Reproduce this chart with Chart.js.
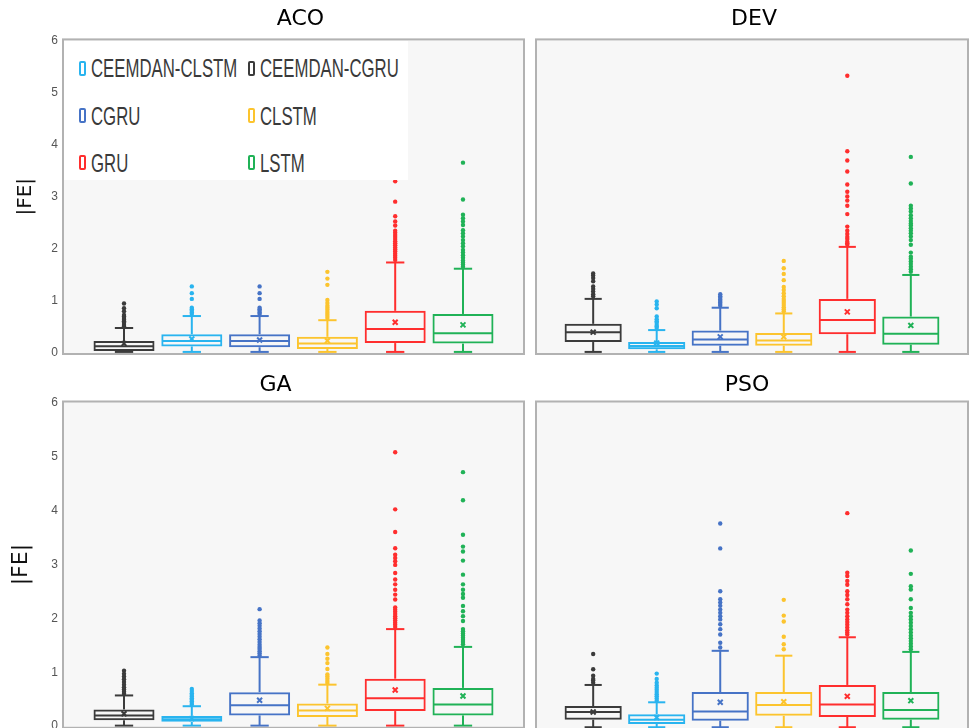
<!DOCTYPE html>
<html>
<head>
<meta charset="utf-8">
<script src="https://cdn.jsdelivr.net/npm/chart.js@4.4.1/dist/chart.umd.min.js"></script>
<style>
  html, body { margin: 0; padding: 0; background: #fff; }
  body { position: relative; width: 974px; height: 728px; overflow: hidden; }
  canvas { position: absolute; }
  #legend { position: absolute; left: 64px; top: 41px; width: 344px; height: 139px; background: #fff; z-index: 5; }
  .lg-icon { position: absolute; width: 7px; height: 15px; box-sizing: border-box; border: 2px solid; border-radius: 2px; }
  .lg-text { position: absolute; font: 26px 'Liberation Sans', Arial, sans-serif; line-height: 26px; color: #3a3a3a;
             white-space: nowrap; transform: scaleX(0.645); transform-origin: left center; }
</style>
</head>
<body>
<div id="legend"></div>
<script>
const categories = ['CEEMDAN-CGRU', 'CEEMDAN-CLSTM', 'CGRU', 'CLSTM', 'GRU', 'LSTM'];
const colors = ['#3b3b3b', '#29b4ef', '#4673c6', '#fcc42e', '#ff2e2e', '#20b257'];
const legendOrder = ['CEEMDAN-CLSTM', 'CEEMDAN-CGRU', 'CGRU', 'CLSTM', 'GRU', 'LSTM'];
const yTicks = [0, 1, 2, 3, 4, 5, 6];

// ACO
const acoLow = [0.01, 0.01, 0.01, 0.01, 0.01, 0.01];
const acoQ1 = [0.03, 0.115, 0.10, 0.065, 0.18, 0.17];
const acoMedian = [0.12, 0.22, 0.22, 0.17, 0.45, 0.37];
const acoQ3 = [0.22, 0.35, 0.35, 0.30, 0.80, 0.74];
const acoHigh = [0.47, 0.70, 0.70, 0.62, 1.73, 1.61];
const acoMean = [0.17, 0.26, 0.24, 0.225, 0.58, 0.53];
const acoOutliers = [
  [0.5, 0.53, 0.57, 0.6, 0.63, 0.66, 0.69, 0.72, 0.79, 0.85, 0.94],
  [0.74, 0.77, 0.8, 0.83, 0.86, 1.03, 1.14, 1.27],
  [0.74, 0.77, 0.8, 0.83, 0.86, 1.03, 1.14, 1.27],
  [0.66, 0.7, 0.74, 0.78, 0.82, 0.86, 0.9, 0.95, 1.01, 1.3, 1.42, 1.55],
  [1.78, 1.82, 1.86, 1.9, 1.94, 1.98, 2.02, 2.06, 2.1, 2.14, 2.18, 2.22, 2.26, 2.3, 2.34, 2.44, 2.52, 2.62, 2.9, 3.29],
  [1.65, 1.69, 1.73, 1.77, 1.82, 1.87, 1.92, 1.97, 2.04, 2.1, 2.16, 2.23, 2.29, 2.35, 2.45, 2.52, 2.58, 2.65, 2.94, 3.65]
];

// DEV
const devLow = [0.01, 0.01, 0.01, 0.01, 0.01, 0.01];
const devQ1 = [0.2, 0.06, 0.13, 0.13, 0.35, 0.15];
const devMedian = [0.39, 0.125, 0.25, 0.23, 0.625, 0.36];
const devQ3 = [0.55, 0.2, 0.42, 0.375, 1.03, 0.69];
const devHigh = [1.03, 0.43, 0.86, 0.75, 2.03, 1.49];
const devMean = [0.39, 0.18, 0.3, 0.3, 0.78, 0.52];
const devOutliers = [
  [1.08, 1.12, 1.17, 1.22, 1.27, 1.37, 1.43, 1.48, 1.52],
  [0.47, 0.5, 0.53, 0.57, 0.6, 0.64, 0.69, 0.85, 0.92, 0.98],
  [0.9, 0.93, 0.96, 0.99, 1.02, 1.05, 1.08, 1.12],
  [0.79, 0.83, 0.87, 0.91, 0.95, 0.99, 1.03, 1.08, 1.14, 1.2, 1.26, 1.39, 1.51, 1.62, 1.76],
  [2.07, 2.1, 2.13, 2.18, 2.22, 2.28, 2.34, 2.42, 2.66, 2.82, 2.92, 3.0, 3.09, 3.23, 3.48, 3.69, 3.87, 5.32],
  [1.55, 1.6, 1.65, 1.7, 1.75, 1.8, 1.84, 1.92, 2.07, 2.16, 2.23, 2.29, 2.34, 2.39, 2.44, 2.48, 2.53, 2.58, 2.64, 2.71, 2.77, 2.82, 3.25, 3.76]
];

// GA
const gaLow = [0.01, 0.01, 0.01, 0.01, 0.01, 0.01];
const gaQ1 = [0.11, 0.08, 0.2, 0.17, 0.28, 0.2];
const gaMedian = [0.2, 0.13, 0.39, 0.29, 0.52, 0.4];
const gaQ3 = [0.31, 0.19, 0.63, 0.42, 0.88, 0.71];
const gaHigh = [0.57, 0.37, 1.28, 0.77, 1.8, 1.47];
const gaMean = [0.23, 0.14, 0.48, 0.33, 0.67, 0.56];
const gaOutliers = [
  [0.6, 0.64, 0.68, 0.72, 0.77, 0.82, 0.87, 0.92, 0.97, 1.03],
  [0.4, 0.43, 0.46, 0.49, 0.52, 0.55, 0.58, 0.61, 0.65, 0.69],
  [1.31, 1.35, 1.39, 1.43, 1.47, 1.51, 1.56, 1.61, 1.66, 1.71, 1.76, 1.81, 1.86, 1.91, 1.96, 2.17],
  [0.8, 0.84, 0.88, 0.92, 0.96, 1.06, 1.17, 1.25, 1.34, 1.46],
  [1.84, 1.88, 1.92, 1.96, 2.0, 2.04, 2.08, 2.12, 2.16, 2.2, 2.35, 2.44, 2.53, 2.63, 2.72, 2.84, 2.99, 3.06, 3.12, 3.18, 3.3, 3.6, 4.02, 5.08],
  [1.52, 1.56, 1.6, 1.64, 1.68, 1.72, 1.76, 1.8, 1.95, 2.04, 2.13, 2.23, 2.38, 2.45, 2.53, 2.63, 2.81, 3.07, 3.24, 3.33, 3.55, 4.19, 4.71]
];

// PSO
const psoLow = [0.01, 0.01, 0.01, 0.01, 0.01, 0.01];
const psoQ1 = [0.15, 0.07, 0.13, 0.22, 0.2, 0.15];
const psoMedian = [0.29, 0.15, 0.3, 0.42, 0.43, 0.33];
const psoQ3 = [0.4, 0.25, 0.66, 0.66, 0.79, 0.66];
const psoHigh = [0.79, 0.47, 1.42, 1.33, 1.67, 1.4];
const psoMean = [0.29, 0.19, 0.47, 0.48, 0.58, 0.5];
const psoOutliers = [
  [0.83, 0.87, 0.9, 0.96, 1.08, 1.36],
  [0.5, 0.54, 0.58, 0.62, 0.66, 0.7, 0.74, 0.78, 0.83, 0.9, 1.0],
  [1.48, 1.57, 1.72, 1.82, 1.91, 2.0, 2.06, 2.12, 2.18, 2.25, 2.31, 2.37, 2.52, 3.31, 3.77],
  [1.45, 1.54, 1.68, 1.96, 2.07, 2.36],
  [1.72, 1.76, 1.8, 1.85, 1.9, 1.95, 2.0, 2.06, 2.12, 2.18, 2.28, 2.37, 2.45, 2.52, 2.64, 2.71, 2.8, 2.86, 3.96],
  [1.45, 1.5, 1.55, 1.6, 1.65, 1.7, 1.76, 1.82, 1.88, 1.94, 2.0, 2.06, 2.12, 2.21, 2.37, 2.55, 2.61, 2.84, 3.27]
];

// panel placement on the page
const layoutAco = { left: 0, top: 0, width: 530, height: 370, pad: { left: 0, right: 3, top: 0, bottom: 16 },
  titlePad: { top: 6.3, bottom: 6.7 }, axis: true, yTitlePad: 14, yTitleSize: 20, dx: 7 };
const layoutDev = { left: 530, top: 0, width: 444, height: 370, pad: { left: 3, right: 1, top: 0, bottom: 16 },
  titlePad: { top: 6.3, bottom: 6.7 }, axis: false, dx: 2 };
const layoutGa = { left: 0, top: 360, width: 530, height: 380, pad: { left: 0, right: 3, top: 0, bottom: 10.6 },
  titlePad: { top: 11.8, bottom: 3.3 }, axis: true, yTitlePad: 8, yTitleSize: 22, dx: -18 };
const layoutPso = { left: 530, top: 360, width: 444, height: 380, pad: { left: 4, right: 1, top: 0, bottom: 10.6 },
  titlePad: { top: 11.8, bottom: 3.3 }, axis: false, dx: -5 };

// box parts: plot background, whiskers, medians, frame, title shift
const boxParts = {
  id: 'boxParts',
  afterLayout(chart, args, opts) {
    if (chart.titleBlock) {
      chart.titleBlock.left += opts.dx;
      chart.titleBlock.right += opts.dx;
    }
  },
  beforeDatasetsDraw(chart) {
    const { ctx, chartArea: a } = chart;
    ctx.save();
    ctx.fillStyle = '#f7f7f7';
    ctx.fillRect(a.left, a.top, a.right - a.left, a.bottom - a.top);
    ctx.restore();
  },
  afterDatasetDraw(chart, args, opts) {
    if (args.index !== 0) return;
    const { ctx } = chart;
    const y = chart.scales.y;
    const s = opts.stats;
    ctx.save();
    ctx.lineWidth = 2;
    args.meta.data.forEach((bar, i) => {
      const { x, width } = bar.getProps(['x', 'width'], true);
      const cap = width * 0.15;
      const line = (x1, y1, x2, y2) => {
        ctx.beginPath(); ctx.moveTo(x1, y1); ctx.lineTo(x2, y2); ctx.stroke();
      };
      ctx.strokeStyle = colors[i];
      const ym = y.getPixelForValue(s.median[i]);
      line(x - width / 2 + 1, ym, x + width / 2 - 1, ym);
      const yq3 = y.getPixelForValue(s.q3[i]), yh = y.getPixelForValue(s.high[i]);
      line(x, yq3, x, yh);
      line(x - cap, yh, x + cap, yh);
      const yq1 = y.getPixelForValue(s.q1[i]), yl = y.getPixelForValue(s.low[i]);
      line(x, yq1, x, yl);
      line(x - cap, yl, x + cap, yl);
    });
    ctx.restore();
  },
  afterDraw(chart) {
    const { ctx, chartArea: a } = chart;
    ctx.save();
    ctx.strokeStyle = '#b2b2b2';
    ctx.lineWidth = 2;
    ctx.strokeRect(a.left, a.top, a.right - a.left, a.bottom - a.top);
    ctx.restore();
  }
};

function buildPanel(name, s, st) {
  const canvas = document.createElement('canvas');
  canvas.width = st.width;
  canvas.height = st.height;
  canvas.style.left = st.left + 'px';
  canvas.style.top = st.top + 'px';
  canvas.style.width = st.width + 'px';
  canvas.style.height = st.height + 'px';
  document.body.appendChild(canvas);

  const xs = categories.map((c, i) => i + 1);
  const datasets = [{
    type: 'bar',
    data: xs.map((x, i) => ({ x: x, y: [s.q1[i], s.q3[i]] })),
    backgroundColor: 'rgba(0,0,0,0)',
    borderColor: colors,
    borderWidth: 2,
    borderSkipped: false,
    barPercentage: 0.9,
    categoryPercentage: 1
  }];
  s.outliers.forEach((vals, i) => {
    datasets.push({
      type: 'line',
      showLine: false,
      data: vals.map(v => ({ x: i + 1, y: v })),
      pointRadius: 2.2,
      pointBorderWidth: 0,
      pointBackgroundColor: colors[i]
    });
  });
  datasets.push({
    type: 'line',
    showLine: false,
    data: xs.map((x, i) => ({ x: x, y: s.mean[i] })),
    pointStyle: 'crossRot',
    pointRadius: 3.5,
    pointBorderWidth: 2,
    pointBorderColor: colors,
    pointBackgroundColor: 'rgba(0,0,0,0)'
  });

  return new Chart(canvas, {
    type: 'bar',
    data: { datasets: datasets },
    options: {
      responsive: false,
      animation: false,
      events: [],
      layout: { padding: st.pad },
      plugins: {
        legend: { display: false },
        tooltip: { enabled: false },
        title: {
          display: true,
          text: name,
          fullSize: false,
          color: '#000',
          font: { family: 'DejaVu Sans', size: 22, weight: 'normal', lineHeight: 1.2 },
          padding: st.titlePad
        },
        boxParts: { stats: s, dx: st.dx }
      },
      scales: {
        x: {
          type: 'linear', min: 0.1, max: 6.9, offset: false, display: false,
          afterBuildTicks: ax => { ax.ticks = xs.map(v => ({ value: v })); }
        },
        y: {
          min: -0.03, max: 6.02,
          display: st.axis,
          afterBuildTicks: ax => { ax.ticks = yTicks.map(v => ({ value: v })); },
          afterFit: ax => { ax.width = st.axis ? 63 - st.pad.left : 0; },
          grid: { display: false, drawTicks: false },
          border: { display: false },
          ticks: { color: '#555', padding: 5, font: { family: 'Liberation Sans', size: 12 } },
          title: {
            display: st.axis,
            text: '|FE|',
            color: '#111',
            padding: { top: st.yTitlePad || 0, bottom: 0 },
            font: { family: 'DejaVu Sans', size: st.yTitleSize || 20, lineHeight: 1.2 }
          }
        }
      }
    },
    plugins: [boxParts]
  });
}

buildPanel('ACO', { low: acoLow, q1: acoQ1, median: acoMedian, q3: acoQ3, high: acoHigh, mean: acoMean, outliers: acoOutliers }, layoutAco);
buildPanel('DEV', { low: devLow, q1: devQ1, median: devMedian, q3: devQ3, high: devHigh, mean: devMean, outliers: devOutliers }, layoutDev);
buildPanel('GA', { low: gaLow, q1: gaQ1, median: gaMedian, q3: gaQ3, high: gaHigh, mean: gaMean, outliers: gaOutliers }, layoutGa);
buildPanel('PSO', { low: psoLow, q1: psoQ1, median: psoMedian, q3: psoQ3, high: psoHigh, mean: psoMean, outliers: psoOutliers }, layoutPso);

// legend inside the ACO panel (two columns)
const legend = document.getElementById('legend');
const rowCenters = [27, 74.5, 121.5];
const colIcon = [15, 184];
legendOrder.forEach((label, k) => {
  const row = Math.floor(k / 2), col = k % 2;
  const color = colors[categories.indexOf(label)];
  const icon = document.createElement('div');
  icon.className = 'lg-icon';
  icon.style.borderColor = color;
  icon.style.left = colIcon[col] + 'px';
  icon.style.top = (rowCenters[row] - 7.5) + 'px';
  legend.appendChild(icon);
  const text = document.createElement('div');
  text.className = 'lg-text';
  text.textContent = label;
  text.style.left = (colIcon[col] + 12) + 'px';
  text.style.top = (rowCenters[row] - 12.7) + 'px';
  legend.appendChild(text);
});
</script>
</body>
</html>
